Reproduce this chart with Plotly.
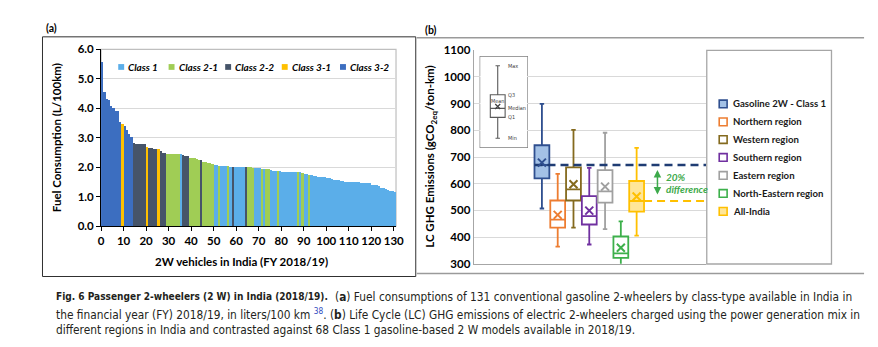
import plotly.graph_objects as go

W, H = 878, 347

# ---------------- Panel (a): fuel consumption of 131 gasoline 2-wheelers ----------------
class_names = ["Class 1", "Class 2-1", "Class 2-2", "Class 3-1", "Class 3-2"]
class_colors = ["#5BAEE9", "#A0CD55", "#465469", "#FFC000", "#3C6EC0"]

# class of each model, in sorted order (run-length: class, number of models)
class_runs = [
    ("Class 3-2", 9), ("Class 3-1", 1), ("Class 3-2", 4), ("Class 2-2", 6),
    ("Class 3-1", 1), ("Class 2-2", 4), ("Class 3-1", 1), ("Class 2-2", 3),
    ("Class 2-1", 6), ("Class 1", 1), ("Class 2-2", 3), ("Class 2-1", 5),
    ("Class 2-2", 1), ("Class 2-1", 5), ("Class 1", 2), ("Class 2-1", 1),
    ("Class 1", 3), ("Class 2-1", 1), ("Class 1", 1), ("Class 2-2", 1),
    ("Class 1", 5), ("Class 2-2", 1), ("Class 2-1", 3), ("Class 1", 3),
    ("Class 2-1", 1), ("Class 1", 1), ("Class 2-1", 2), ("Class 1", 3),
    ("Class 2-1", 1), ("Class 1", 8), ("Class 2-1", 1), ("Class 1", 1),
    ("Class 2-1", 1), ("Class 1", 2), ("Class 2-1", 1), ("Class 1", 38),
]

# fuel consumption, L/100km
fuel_values = [
    5.55, 4.54, 4.32, 4.27, 4.05, 3.99, 3.89, 3.89, 3.51,
    3.45,
    3.38, 3.24, 3.13, 3.00,
    2.80, 2.78, 2.78, 2.78, 2.78, 2.78,
    2.69,
    2.64, 2.63, 2.62, 2.62,
    2.59,
    2.53, 2.48, 2.48,
    2.45, 2.45, 2.45, 2.45, 2.45, 2.45,
    2.44,
    2.40, 2.37, 2.37,
    2.31, 2.30, 2.29, 2.28, 2.25,
    2.23,
    2.18, 2.15, 2.13, 2.12, 2.10,
    2.07, 2.05,
    2.04,
    2.03, 2.03, 2.02,
    2.02,
    2.01,
    2.00,
    2.00, 2.00, 2.00, 2.00, 2.00,
    2.00,
    1.99, 1.98, 1.97,
    1.95, 1.95, 1.95,
    1.94,
    1.93,
    1.93, 1.93,
    1.88, 1.87, 1.86,
    1.85,
    1.85, 1.84, 1.84, 1.84, 1.84, 1.84, 1.84, 1.83,
    1.82,
    1.82,
    1.80,
    1.76, 1.75,
    1.74,
    1.71, 1.69, 1.68, 1.67, 1.66, 1.66, 1.65, 1.62, 1.61, 1.60,
    1.56, 1.55, 1.54, 1.52, 1.51, 1.50, 1.50, 1.49, 1.48, 1.48,
    1.48, 1.48, 1.47, 1.47, 1.45, 1.45, 1.44, 1.40, 1.39, 1.38,
    1.34, 1.30, 1.28, 1.24, 1.22, 1.18, 1.17, 1.16,
]
x_ticks_a = list(range(0, 131, 10))

bar_classes = [c for c, n in class_runs for _ in range(n)]
assert len(bar_classes) == len(fuel_values) == 131

# ---------------- Panel (b): life-cycle GHG emissions ----------------
regions = ["Gasoline 2W - Class 1", "Northern region", "Western region",
           "Southern region", "Eastern region", "North-Eastern region", "All-India"]
region_line = ["#2F4F8F", "#ED7D31", "#846A1E", "#7030A0", "#A0A0A0", "#3DB04B", "#FFC000"]
region_fill = ["#A3C1E6", "#FFFFFF", "#FFFFFF", "#FFFFFF", "#FFFFFF", "#FFFFFF", "#FFE699"]
ghg_min = [507, 364, 435, 372, 430, 290, 405]
ghg_q1 = [620, 435, 537, 447, 529, 322, 495]
ghg_median = [670, 465, 579, 478, 571, 339, 535]
ghg_mean = [679, 483, 598, 499, 589, 360, 552]
ghg_q3 = [744, 537, 661, 553, 651, 402, 610]
ghg_max = [899, 637, 802, 659, 791, 459, 734]
box_pos = list(range(len(regions)))

# schematic box used as the key for reading the box plots
key_labels = ["Min", "Q1", "Median", "Mean", "Q3", "Max"]
key_values = [10, 33, 43, 45, 58, 90]

FONT = "Lato, 'Open Sans', Arial, sans-serif"
NARROW = "'Liberation Sans Narrow', 'DejaVu Sans Condensed', 'Arial Narrow', sans-serif"


def px(p):
    return p / W


def py(p):
    return 1 - p / H


fig = go.Figure()

for cls, col in zip(class_names, class_colors):
    xs = [i + 0.5 for i, c in enumerate(bar_classes) if c == cls]
    ys = [v for v, c in zip(fuel_values, bar_classes) if c == cls]
    fig.add_trace(go.Bar(x=xs, y=ys, width=1.0, name=cls,
                         marker=dict(color=col, line=dict(width=0)),
                         xaxis="x", yaxis="y", showlegend=False))

for i, name in enumerate(regions):
    fig.add_trace(go.Box(
        x=[box_pos[i]], q1=[ghg_q1[i]], median=[ghg_median[i]], q3=[ghg_q3[i]],
        lowerfence=[ghg_min[i]], upperfence=[ghg_max[i]],
        width=0.94, whiskerwidth=0.3, boxpoints=False, name=name,
        line=dict(color=region_line[i], width=1.8), fillcolor=region_fill[i],
        xaxis="x2", yaxis="y2", showlegend=False))

# reference lines at the gasoline and all-India medians
x2_range = [-4.32, 10.4]
fig.add_trace(go.Scatter(
    x=[box_pos[0] - 0.47, x2_range[1]], y=[ghg_median[0]] * 2, mode="lines",
    line=dict(color="#1F3C73", width=2.6, dash="8px,5px"),
    xaxis="x2", yaxis="y2", showlegend=False, hoverinfo="skip"))
fig.add_trace(go.Scatter(
    x=[box_pos[-1] + 0.47, x2_range[1]], y=[ghg_median[-1]] * 2, mode="lines",
    line=dict(color="#FFC000", width=2.2, dash="8px,5px"),
    xaxis="x2", yaxis="y2", showlegend=False, hoverinfo="skip"))

# means
fig.add_trace(go.Scatter(
    x=box_pos, y=ghg_mean, mode="markers",
    marker=dict(symbol="x-thin", size=8, line=dict(color=region_line, width=2)),
    xaxis="x2", yaxis="y2", showlegend=False, hoverinfo="skip"))

# key box
kv = dict(zip(key_labels, key_values))
fig.add_trace(go.Box(
    x=[0], q1=[kv["Q1"]], median=[kv["Median"]], q3=[kv["Q3"]],
    lowerfence=[kv["Min"]], upperfence=[kv["Max"]], width=1.0, whiskerwidth=0.3,
    boxpoints=False, line=dict(color="#595959", width=1.1), fillcolor="white",
    xaxis="x3", yaxis="y3", showlegend=False))
fig.add_trace(go.Scatter(
    x=[0], y=[kv["Mean"]], mode="markers",
    marker=dict(symbol="x-thin", size=5, line=dict(color="#404040", width=1.2)),
    xaxis="x3", yaxis="y3", showlegend=False, hoverinfo="skip"))

tick_font = dict(family=FONT, size=11.5, color="black", weight="bold")

fig.update_layout(
    width=W, height=H, margin=dict(l=0, r=0, t=0, b=0),
    paper_bgcolor="white", plot_bgcolor="white", barmode="overlay",
    bargap=0, showlegend=False,
    xaxis=dict(domain=[px(99.3), px(398)], range=[0, 131], tickvals=x_ticks_a,
               ticks="outside", ticklen=4, tickcolor="black", showline=True,
               linecolor="black", linewidth=1, showgrid=False, zeroline=False,
               tickfont=tick_font, anchor="y", fixedrange=True),
    yaxis=dict(domain=[py(227.7), py(44)], range=[0, 6], dtick=1, tickformat=".1f",
               ticks="outside", ticklen=4, tickcolor="black", showline=True,
               linecolor="black", linewidth=1, showgrid=True, gridcolor="#D9D9D9",
               zeroline=False, tickfont=tick_font, anchor="x"),
    xaxis2=dict(domain=[px(476.7), px(712)], range=x2_range, showticklabels=False,
                ticks="", showgrid=False, zeroline=False, showline=True,
                linecolor="#A6A6A6", linewidth=1.2, anchor="y2"),
    yaxis2=dict(domain=[py(266.7), py(45)], range=[300, 1100], dtick=100,
                showgrid=True, gridcolor="#D9D9D9", zeroline=False, showline=True,
                linecolor="#A6A6A6", linewidth=1.2, ticks="", tickfont=tick_font,
                anchor="x2"),
    xaxis3=dict(domain=[px(483.3), px(531)], range=[-1.18, 2.0], visible=False,
                anchor="y3"),
    yaxis3=dict(domain=[py(145.7), py(51.7)], range=[0, 100], visible=False,
                anchor="x3"),
)

shapes = [
    # panel (a) frame and plot-area border
    dict(type="rect", xref="paper", yref="paper", x0=px(40), x1=px(418), y0=py(280),
         y1=py(31), line=dict(color="#303030", width=1), layer="below"),
    dict(type="rect", xref="x domain", yref="y domain", x0=0, x1=1, y0=0, y1=1,
         line=dict(color="#BFBFBF", width=1.2), layer="below"),
    # panel (b) frame lines
    dict(type="line", xref="paper", yref="paper", x0=px(419), x1=px(872), y0=py(32),
         y1=py(32), line=dict(color="#9A9A9A", width=1.5), layer="below"),
    dict(type="line", xref="paper", yref="paper", x0=px(419), x1=px(872), y0=py(277),
         y1=py(277), line=dict(color="#9A9A9A", width=1.5), layer="below"),
    # key frame
    dict(type="rect", xref="x3 domain", yref="y3 domain", x0=0, x1=1, y0=0, y1=1,
         line=dict(color="#7F7F7F", width=1.3), fillcolor="white", layer="below"),
    # legend frame for panel (b)
    dict(type="rect", xref="paper", yref="paper", x0=px(712.7), x1=px(839),
         y0=py(267), y1=py(45), line=dict(color="#A6A6A6", width=1.3),
         fillcolor="white", layer="below"),
]

annotations = []

# panel (a) legend
leg_a_x = [116.7, 167.7, 225.0, 282.3, 341.3]
for cls, col, x0 in zip(class_names, class_colors, leg_a_x):
    shapes.append(dict(type="rect", xref="paper", yref="paper", x0=px(x0), x1=px(x0 + 6),
                       y0=py(65.3), y1=py(59.3), fillcolor=col, line=dict(width=0),
                       layer="above"))
    annotations.append(dict(xref="paper", yref="paper", x=px(x0 + 8.3), y=py(62.3),
                            text=f"<b><i>{cls}</i></b>", showarrow=False,
                            xanchor="left", yanchor="middle",
                            font=dict(family=FONT, size=10, color="black")))

# panel (b) legend
leg_b_y = [100.7, 119.3, 137.7, 156.3, 175.0, 193.7, 212.3]
for name, lc, fc, yc in zip(regions, region_line, region_fill, leg_b_y):
    shapes.append(dict(type="rect", xref="paper", yref="paper", x0=px(725.3), x1=px(733.3),
                       y0=py(yc + 4), y1=py(yc - 4), fillcolor=fc,
                       line=dict(color=lc, width=1.6), layer="above"))
    annotations.append(dict(xref="paper", yref="paper", x=px(737.7), y=py(yc),
                            text=f"<b>{name}</b>", showarrow=False, xanchor="left",
                            yanchor="middle",
                            font=dict(family=FONT, size=9.6, color="#1A1A1A")))

# key labels
for lab in ["Max", "Q3", "Median", "Q1", "Min"]:
    annotations.append(dict(xref="x3", yref="y3", x=0.55, y=kv[lab], text=lab,
                            showarrow=False, xanchor="left", yanchor="middle",
                            font=dict(family=NARROW, size=5.5, color="#404040")))
annotations.append(dict(xref="x3", yref="y3", x=0, y=kv["Mean"], yshift=6, text="Mean",
                        showarrow=False, xanchor="center", yanchor="middle",
                        font=dict(family=NARROW, size=5.5, color="#404040")))

# difference arrow between gasoline and all-India medians
pct = round((ghg_median[0] - ghg_median[-1]) / ghg_median[0] * 100)
arrow_x = 7.32
annotations.append(dict(xref="x2", yref="y2", axref="x2", ayref="y2",
                        x=arrow_x, y=ghg_median[0], ax=arrow_x, ay=ghg_median[-1],
                        text="", showarrow=True, arrowhead=2, arrowside="end+start",
                        arrowsize=1, arrowwidth=1.5, arrowcolor="#3DAA4B",
                        standoff=5, startstandoff=5))
annotations.append(dict(xref="x2", yref="y2", x=7.71, y=625, text=f"<b><i>{pct}%</i></b>",
                        showarrow=False, xanchor="left", yanchor="middle",
                        font=dict(family=FONT, size=10, color="#3DAA4B")))
annotations.append(dict(xref="x2", yref="y2", x=7.71, y=579, text="<b><i>difference</i></b>",
                        showarrow=False, xanchor="left", yanchor="middle",
                        font=dict(family=FONT, size=10, color="#3DAA4B")))

# titles
annotations += [
    dict(xref="paper", yref="paper", x=px(42), y=py(22), text="<b>(a)</b>", showarrow=False,
         xanchor="left", yanchor="middle", font=dict(family=FONT, size=10.5, color="black")),
    dict(xref="paper", yref="paper", x=px(425), y=py(24), text="<b>(b)</b>", showarrow=False,
         xanchor="left", yanchor="middle", font=dict(family=FONT, size=10.5, color="black")),
    dict(xref="paper", yref="paper", x=px(55), y=py(136), text="<b>Fuel Consumption (L/100km)</b>",
         textangle=-90, showarrow=False, xanchor="center", yanchor="middle",
         font=dict(family=FONT, size=11.5, color="black")),
    dict(xref="paper", yref="paper", x=px(242), y=py(264),
         text="<b>2W vehicles in India (FY 2018/19)</b>", showarrow=False,
         xanchor="center", yanchor="middle", font=dict(family=FONT, size=11.5, color="black")),
    dict(xref="paper", yref="paper", x=px(433), y=py(156),
         text="<b>LC GHG Emissions (gCO<sub>2eq</sub>/ton-km)</b>", textangle=-90,
         showarrow=False, xanchor="center", yanchor="middle",
         font=dict(family=FONT, size=11.5, color="black")),
]

# caption
n_models = len(fuel_values)
n_class1 = bar_classes.count("Class 1")
CAP = 11.8
cap_font = dict(family=NARROW, size=CAP, color="#231F20")
annotations += [
    dict(xref="paper", yref="paper", x=px(52), y=py(301),
         text="<b>Fig. 6 Passenger 2-wheelers (2 W) in India (2018/19).</b>",
         showarrow=False, xanchor="left", yanchor="middle",
         font=dict(family=NARROW, size=10.05, color="#231F20")),
    dict(xref="paper", yref="paper", x=px(862), y=py(301),
         text=f"(<b>a</b>) Fuel consumptions of {n_models} conventional gasoline 2-wheelers "
              "by class-type available in India in",
         showarrow=False, xanchor="right", yanchor="middle", font=cap_font),
    dict(xref="paper", yref="paper", x=px(52), y=py(319),
         text="the financial year (FY) 2018/19, in liters/100 km "
              "<sup><span style='color:#2F4BC0'>38</span></sup>. (<b>b</b>) Life Cycle (LC) GHG "
              "emissions of electric 2-wheelers charged using the power generation mix in",
         showarrow=False, xanchor="left", yanchor="middle", font=cap_font),
    dict(xref="paper", yref="paper", x=px(52), y=py(336),
         text=f"different regions in India and contrasted against {n_class1} Class 1 "
              "gasoline-based 2 W models available in 2018/19.",
         showarrow=False, xanchor="left", yanchor="middle", font=cap_font),
]

fig.update_layout(shapes=shapes, annotations=annotations)
fig.write_html("out.html")
